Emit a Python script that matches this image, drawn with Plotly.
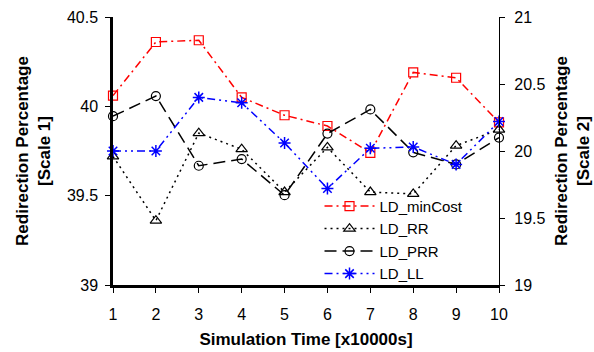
import plotly.graph_objects as go

sim_time = [1, 2, 3, 4, 5, 6, 7, 8, 9, 10]
ld_mincost = [40.06, 40.36, 40.37, 40.05, 39.95, 39.89, 39.74, 40.19, 40.16, 39.91]
ld_rr = [39.72, 39.36, 39.85, 39.76, 39.52, 39.77, 39.52, 39.51, 39.78, 39.87]
ld_prr = [20.26, 20.41, 19.89, 19.94, 19.67, 20.13, 20.31, 19.99, 19.90, 20.10]
ld_ll = [20.0, 20.0, 20.40, 20.36, 20.06, 19.72, 20.02, 20.03, 19.90, 20.22]

left_ticks = [39, 39.5, 40, 40.5]
right_ticks = [19, 19.5, 20, 20.5, 21]

FONT = "Liberation Sans, Arial, sans-serif"

fig = go.Figure()
fig.add_trace(go.Scatter(x=sim_time, y=ld_mincost, name="LD_minCost", mode="lines+markers",
                         line=dict(color="#ff0000", width=1.5, dash="8px,4px,2px,4px"),
                         marker=dict(symbol="square-open", size=9, color="#ff0000", line=dict(width=1.2)),
                         cliponaxis=False, yaxis="y"))
fig.add_trace(go.Scatter(x=sim_time, y=ld_rr, name="LD_RR", mode="lines+markers",
                         line=dict(color="black", width=1.5, dash="2px,4px"),
                         marker=dict(symbol="triangle-up-open", size=10, color="black", line=dict(width=1.2)),
                         cliponaxis=False, yaxis="y"))
fig.add_trace(go.Scatter(x=sim_time, y=ld_prr, name="LD_PRR", mode="lines+markers",
                         line=dict(color="black", width=1.5, dash="12px,6px"),
                         marker=dict(symbol="circle-open", size=9, color="black", line=dict(width=1.2)),
                         cliponaxis=False, yaxis="y2"))
fig.add_trace(go.Scatter(x=sim_time, y=ld_ll, name="LD_LL", mode="lines+markers",
                         line=dict(color="#0000ff", width=1.5, dash="8px,4px,2px,4px,2px,4px"),
                         marker=dict(symbol="asterisk-open", size=10, color="#0000ff", line=dict(width=1.5, color="#0000ff")),
                         cliponaxis=False, yaxis="y2"))

fig.update_layout(
    width=594, height=352,
    margin=dict(l=113, r=95, t=17, b=67, autoexpand=False),
    paper_bgcolor="white", plot_bgcolor="white",
    font=dict(family=FONT, size=16, color="black"),
    showlegend=True,
    legend=dict(x=0.535, y=0.355, xanchor="left", yanchor="top", bgcolor="rgba(0,0,0,0)",
                font=dict(size=15), itemwidth=50, tracegroupgap=0),
    xaxis=dict(range=[1, 10], tickvals=sim_time, ticks="outside", ticklen=5, tickcolor="black",
               ticklabelstandoff=8, automargin=False,
               showline=True, linecolor="black", linewidth=2.5, showgrid=False, zeroline=False,
               title=dict(text="<b>Simulation Time [x10000s]</b>", font=dict(size=17), standoff=12)),
    xaxis2=dict(range=[1, 10], overlaying="x", matches="x", side="bottom", anchor="y", tickvals=sim_time,
                ticks="inside", ticklen=5, tickcolor="black", showticklabels=False, showline=False,
                showgrid=False, zeroline=False, automargin=False),
    xaxis3=dict(range=[1, 10], overlaying="x", matches="x", side="top", anchor="y", showticklabels=False,
                ticks="", showline=True, linecolor="black", linewidth=1, showgrid=False, zeroline=False,
                automargin=False),
    yaxis=dict(range=[39, 40.5], tickvals=left_ticks, ticktext=["39", "39.5", "40", "40.5"], ticks="outside", ticklen=5,
               ticklabelstandoff=4, automargin=False,
               tickcolor="black", showline=True, linecolor="black", linewidth=2.5, showgrid=False, zeroline=False,
               title=dict(text="<b>Redirection Percentage<br>[Scale 1]</b>", font=dict(size=17), standoff=12)),
    yaxis3=dict(range=[39, 40.5], overlaying="y", matches="y", side="left", anchor="x", tickvals=left_ticks,
                ticks="inside", ticklen=5, tickcolor="black", showticklabels=False, showline=False,
                showgrid=False, zeroline=False, automargin=False),
    yaxis2=dict(range=[19, 21], overlaying="y", side="right", anchor="x", tickvals=right_ticks,
                ticktext=["19", "19.5", "20", "20.5", "21"], ticks="outside", ticklen=5, tickcolor="black",
                ticklabelstandoff=6, automargin=False,
                showline=True, linecolor="black", linewidth=1.2, showgrid=False, zeroline=False,
                title=dict(text="<b>Redirection Percentage<br>[Scale 2]</b>", font=dict(size=17), standoff=10)),
    yaxis4=dict(range=[19, 21], overlaying="y", side="right", anchor="x", tickvals=right_ticks,
                ticks="inside", ticklen=5, tickcolor="black", showticklabels=False, showline=False,
                showgrid=False, zeroline=False, automargin=False),
)

fig.write_html("out.html")
